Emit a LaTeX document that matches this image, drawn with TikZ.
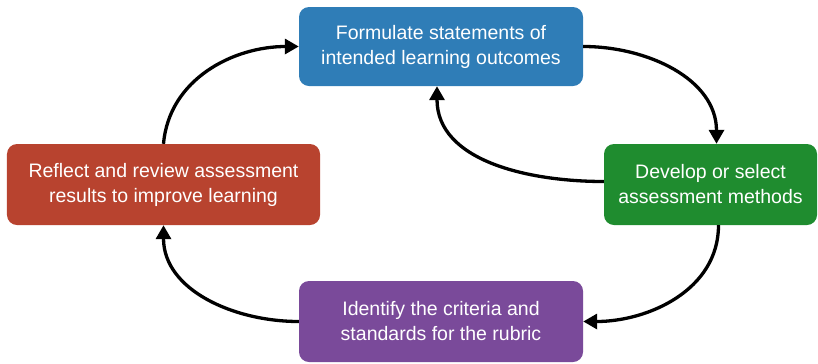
\documentclass[tikz,border=0pt]{standalone}
\usepackage{fontspec}
\setmainfont{Liberation Sans}
\usetikzlibrary{arrows.meta}
\definecolor{cblue}{HTML}{2F7DB7}
\definecolor{cgreen}{HTML}{1F8C2F}
\definecolor{cred}{HTML}{B8432F}
\definecolor{cpurple}{HTML}{7A4A9A}
\tikzset{
  stepbox/.style={rounded corners=10bp, inner sep=0pt, text=white,
    align=center, font=\fontsize{19.5bp}{25bp}\selectfont},
  flow/.style={line width=3.3bp, -{Triangle[length=14bp,width=15bp]}}
}
\begin{document}
\begin{tikzpicture}[x=1bp,y=-1bp]
\useasboundingbox (0,0) rectangle (818,363);
\node[stepbox, fill=cblue, minimum width=284bp, minimum height=79bp] (blue) at (441,46.5)
  {Formulate statements of\\intended learning outcomes};
\node[stepbox, fill=cgreen, minimum width=213bp, minimum height=81bp] (green) at (710.5,184.5)
  {Develop or select\\assessment methods};
\node[stepbox, fill=cred, minimum width=313bp, minimum height=81bp] (red) at (163.5,184.5)
  {Reflect and review assessment\\results to improve learning};
\node[stepbox, fill=cpurple, minimum width=284bp, minimum height=81bp] (purple) at (441,321.5)
  {Identify the criteria and\\standards for the rubric};
\draw[flow] (blue.east) to[out=0,in=90] ([xshift=6bp]green.north);
\draw[flow] ([yshift=3bp]green.west) to[out=180,in=-90] ([xshift=-4bp]blue.south);
\draw[flow] ([xshift=8bp]green.south) to[out=-90,in=0] (purple.east);
\draw[flow] (purple.west) to[out=180,in=-90] (red.south);
\draw[flow] (red.north) to[out=85,in=180] (blue.west);
\end{tikzpicture}
\end{document}
